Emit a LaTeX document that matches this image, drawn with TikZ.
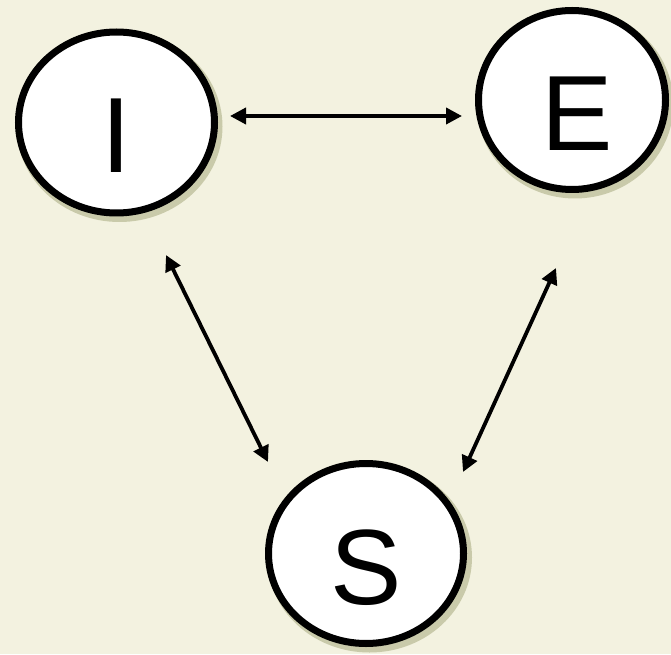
\documentclass[tikz,border=0pt]{standalone}
\usepackage{fontspec}
\setmainfont{Liberation Sans}
\usetikzlibrary{arrows.meta,shapes.geometric}
\definecolor{bgcol}{RGB}{243,242,224}
\definecolor{shadowcol}{RGB}{150,155,105}
\tikzset{
  x=1pt,y=1pt,
  statering/.style={ellipse, draw=black, fill=white, line width=7pt, inner sep=0pt},
  ringshadow/.style={ellipse, fill=shadowcol, draw=none, inner sep=0pt, opacity=0.45},
  letter/.style={inner sep=0pt, font=\fontsize{107}{107}\selectfont},
  link/.style={line width=3.8pt, {Triangle[length=16pt,width=16pt]}-{Triangle[length=16pt,width=16pt]}}
}
\begin{document}
\begin{tikzpicture}
\fill[bgcol] (0,0) rectangle (671,654);
\useasboundingbox (0,0) rectangle (671,654);
% shadows
\node[ringshadow, minimum width=206, minimum height=191] (Ish) at (119.5,527.5) {};
\node[ringshadow, minimum width=197, minimum height=189] (Esh) at (575,550) {};
\node[ringshadow, minimum width=205, minimum height=190] (Ssh) at (369.5,96.5) {};
% circles
\node[statering, minimum width=196, minimum height=181] (I) at (116.5,531.5) {};
\node[statering, minimum width=187, minimum height=179] (E) at (572,554) {};
\node[statering, minimum width=195, minimum height=180] (S) at (366,100.5) {};
% letters
\node[letter] (Il) at (116.5,518.5) {I};
\node[letter] (El) at (577.5,540.5) {E};
\node[letter] (Sl) at (366,86) {S};
% arrow end points
\coordinate (IEa) at (230,538);
\coordinate (IEb) at (462,538);
\coordinate (ISa) at (166,399);
\coordinate (ISb) at (268,192);
\coordinate (ESa) at (556,386);
\coordinate (ESb) at (463,182);
\draw[link] (IEa) -- (IEb);
\draw[link] (ISa) -- (ISb);
\draw[link] (ESa) -- (ESb);
\end{tikzpicture}
\end{document}
